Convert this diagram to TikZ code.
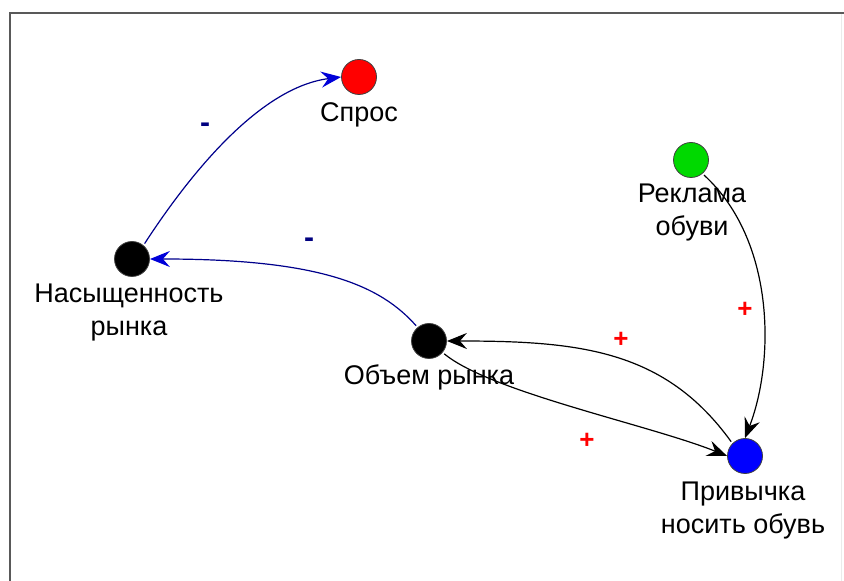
\documentclass[tikz,border=0pt]{standalone}
\usepackage{fontspec}
\setmainfont{Liberation Sans}
\usetikzlibrary{arrows.meta}

\begin{document}
\begin{tikzpicture}[x=.5pt,y=-.5pt,
  var/.style={circle,draw=black!75,minimum size=17.5pt,inner sep=0pt},
  txt/.style={anchor=north,align=center,inner sep=0pt,font=\fontsize{13.5}{16.5}\selectfont},
  plussign/.style={text=red,inner sep=0pt,font=\fontsize{13}{13}\selectfont\bfseries},
  minussign/.style={text=blue!50!black,inner sep=0pt,font=\fontsize{15}{15}\selectfont\bfseries},
  blink/.style={blue!55!black,line width=.6pt,shorten <=1pt,-{Stealth[length=10pt,width=8pt,inset=3.5pt,color=blue!85!black]}},
  klink/.style={black,line width=.6pt,shorten <=1pt,-{Stealth[length=10pt,width=8pt,inset=3.5pt]}}]

\useasboundingbox (0,0) rectangle (844,581);
\draw[black!65,line width=1.2pt] (10,581) -- (10,13) -- (844,13);
\draw[black!8,line width=.5pt] (841,14) -- (841,581);

\node[var,fill=red] (spros) at (359,77) {};
\node[var,fill=black] (nas) at (132,259) {};
\node[var,fill=black] (obj) at (429,341) {};
\node[var,fill=green!85!black] (rek) at (691,160) {};
\node[var,fill=blue] (priv) at (745,456) {};

\node[txt] (spros-t) at (359,102) {Спрос};
\node[txt] (nas-t) at (129,284) {Насыщенность\\рынка};
\node[txt] (obj-t) at (429,364) {Объем рынка};
\node[txt] (rek-t) at (692,184) {Реклама\\обуви};
\node[txt] (priv-t) at (743,482) {Привычка\\носить обувь};

\draw[blink] (nas.50) .. controls (182,186) and (255,88) .. (spros.west);
\draw[blink] (obj.130) .. controls (380,285) and (320,259) .. (nas.east);
\draw[klink] (priv.135) .. controls (665,350) and (580,341) .. (obj.east);
\draw[klink] (obj.-40) .. controls (490,392) and (650,425) .. (priv.west);
\draw[klink] (rek.-50) .. controls (775,240) and (775,360) .. (priv.north);

\node[minussign] (m1) at (205,128) {-};
\node[minussign] (m2) at (309,243) {-};
\node[plussign] (p1) at (621,340) {+};
\node[plussign] (p2) at (587,441) {+};
\node[plussign] (p3) at (745,310) {+};

\end{tikzpicture}
\end{document}
